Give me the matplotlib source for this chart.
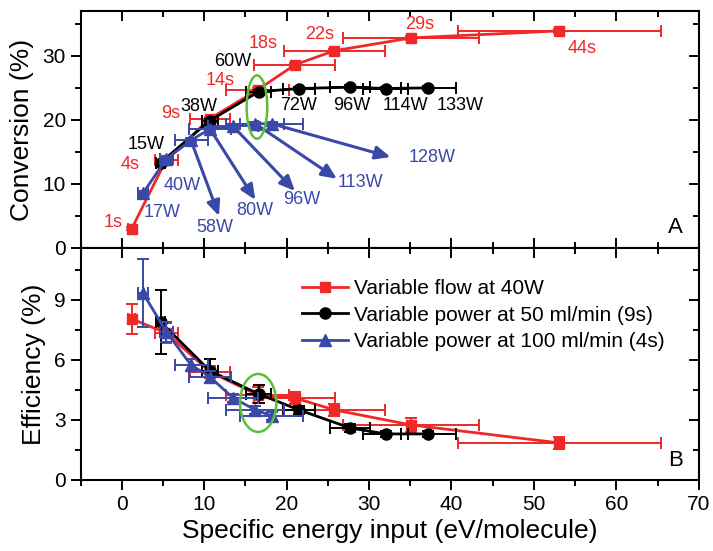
import numpy as np
import matplotlib.pyplot as plt
from matplotlib.patches import Ellipse
from matplotlib.lines import Line2D

plt.rcParams['font.family'] = ['Liberation Sans', 'DejaVu Sans']

# Variable flow at 40W (red)
flow_labels = ['1s', '4s', '9s', '14s', '18s', '22s', '29s', '44s']
flow_sei = [1.2, 5.4, 10.7, 16.5, 21.0, 25.8, 35.1, 53.1]
flow_sei_err = [0.4, 1.4, 2.4, 3.8, 4.9, 6.1, 8.2, 12.3]
flow_conv = [3.0, 13.8, 20.2, 24.7, 28.6, 30.8, 32.8, 33.9]
flow_conv_err = [0.2, 0.3, 0.3, 0.3, 0.3, 0.3, 0.3, 0.3]
flow_eff = [8.05, 7.35, 5.4, 4.25, 4.1, 3.5, 2.75, 1.85]
flow_eff_err = [0.75, 0.5, 0.3, 0.4, 0.3, 0.3, 0.35, 0.3]
flow_lbl_pos = [(-1.0, 3.9), (1.0, 13.1), (5.9, 21.0), (11.9, 26.2),
                (17.2, 31.9), (24.0, 33.4), (36.2, 34.9), (55.8, 31.2)]

# Variable power at 50 ml/min (black)
p50_labels = ['15W', '38W', '60W', '72W', '96W', '114W', '133W']
p50_sei = [4.7, 10.7, 16.6, 21.5, 27.7, 32.0, 37.2]
p50_sei_err = [0.6, 1.0, 1.5, 1.9, 2.4, 2.7, 3.3]
p50_conv = [13.3, 19.9, 24.4, 24.9, 25.1, 24.9, 25.0]
p50_conv_err = [0.3, 0.3, 0.3, 0.3, 0.3, 0.3, 0.3]
p50_eff = [7.9, 5.45, 4.3, 3.5, 2.6, 2.3, 2.3]
p50_eff_err = [1.6, 0.6, 0.45, 0.2, 0.2, 0.15, 0.15]
p50_lbl_pos = [(3.0, 16.2), (9.3, 22.1), (13.5, 29.1), (21.4, 22.2),
               (27.9, 22.2), (34.4, 22.2), (41.1, 22.2)]

# Variable power at 100 ml/min (blue)
p100_labels = ['17W', '40W', '58W', '80W', '96W', '113W', '128W']
p100_sei = [2.6, 5.4, 8.4, 10.7, 13.5, 16.2, 18.2]
p100_sei_err = [0.6, 0.8, 2.0, 2.5, 3.0, 3.5, 3.8]
p100_conv = [8.6, 13.9, 16.8, 18.6, 19.0, 19.4, 19.4]
p100_conv_err = [0.3, 0.3, 0.3, 0.3, 0.3, 0.3, 0.3]
p100_eff = [9.33, 7.4, 5.75, 5.15, 4.1, 3.5, 3.2]
p100_eff_err = [1.7, 0.5, 0.3, 0.3, 0.2, 0.2, 0.2]
p100_lbl_pos = [(4.9, 5.5), (7.3, 9.8), (11.3, 3.2), (16.2, 5.9),
                (21.8, 7.5), (28.9, 10.2), (37.6, 14.2)]
p100_arrow_tip = [None, None, (11.8, 5.0), (16.2, 7.5), (21.0, 8.9),
                  (26.1, 10.8), (32.6, 14.2)]

red = '#f02828'
blue = '#3a48a8'
green = '#5cbf3a'

fig = plt.figure(figsize=(7.13, 5.51), dpi=100)
axA = fig.add_axes([0.113, 0.550, 0.867, 0.430])
axB = fig.add_axes([0.113, 0.129, 0.867, 0.421])

eb = dict(capsize=4, elinewidth=1.4, capthick=1.4, lw=2)

axA.errorbar(flow_sei, flow_conv, xerr=flow_sei_err, yerr=flow_conv_err,
             color=red, marker='s', ms=7, **eb, zorder=3)
axA.errorbar(p50_sei, p50_conv, xerr=p50_sei_err, yerr=p50_conv_err,
             color='black', marker='o', ms=8, **eb, zorder=4)
axA.errorbar(p100_sei, p100_conv, xerr=p100_sei_err, yerr=p100_conv_err,
             color=blue, marker='^', ms=8, **eb, zorder=5)

for lab, pos in zip(flow_labels, flow_lbl_pos):
    axA.text(pos[0], pos[1], lab, color=red, fontsize=13, ha='center', va='center')
for lab, pos in zip(p50_labels, p50_lbl_pos):
    axA.text(pos[0], pos[1], lab, color='black', fontsize=13, ha='center', va='center')
for lab, pos, tip, x0, y0 in zip(p100_labels, p100_lbl_pos, p100_arrow_tip,
                                 p100_sei, p100_conv):
    axA.text(pos[0], pos[1], lab, color=blue, fontsize=13, ha='center', va='center')
    if tip is not None:
        axA.annotate('', xy=tip, xytext=(x0, y0),
                     arrowprops=dict(arrowstyle='-|>,head_length=0.9,head_width=0.4',
                                     color=blue, lw=2.2, shrinkA=0, shrinkB=0),
                     zorder=2)

axA.add_patch(Ellipse((16.4, 22.0), 2.5, 9.9, fill=False, ec=green, lw=1.8, zorder=6))
axA.text(0.975, 0.04, 'A', transform=axA.transAxes, fontsize=16, ha='right', va='bottom')

axB.errorbar(flow_sei, flow_eff, xerr=flow_sei_err, yerr=flow_eff_err,
             color=red, marker='s', ms=7, **eb, zorder=3)
axB.errorbar(p50_sei, p50_eff, xerr=p50_sei_err, yerr=p50_eff_err,
             color='black', marker='o', ms=8, **eb, zorder=4)
axB.errorbar(p100_sei, p100_eff, xerr=p100_sei_err, yerr=p100_eff_err,
             color=blue, marker='^', ms=8, **eb, zorder=5)
axB.add_patch(Ellipse((16.55, 3.85), 4.4, 2.9, fill=False, ec=green, lw=1.8, zorder=6))
axB.text(0.975, 0.04, 'B', transform=axB.transAxes, fontsize=16, ha='right', va='bottom')

handles = [Line2D([], [], color=red, marker='s', ms=7, lw=2),
           Line2D([], [], color='black', marker='o', ms=8, lw=2),
           Line2D([], [], color=blue, marker='^', ms=8, lw=2)]
legend_labels = ['Variable flow at 40W', 'Variable power at 50 ml/min (9s)',
                 'Variable power at 100 ml/min (4s)']
axB.legend(handles, legend_labels, loc='upper left', bbox_to_anchor=(0.345, 0.90),
           frameon=False, fontsize=15, handlelength=2.2, labelspacing=0.35,
           handletextpad=0.3, borderaxespad=0)

for ax in (axA, axB):
    ax.set_xlim(-5, 70)
    ax.set_xticks(np.arange(0, 71, 10))
    ax.set_xticks(np.arange(-5, 71, 5), minor=True)
    for s in ax.spines.values():
        s.set_linewidth(1.5)
    ax.tick_params(which='both', labelsize=15, width=1.4, top=True, right=True)
    ax.tick_params(which='major', length=7)
    ax.tick_params(which='minor', length=4)
    ax.tick_params(axis='y', which='both', direction='out')

axA.set_ylim(0, 37)
axA.set_yticks([0, 10, 20, 30])
axA.set_yticks(np.arange(5, 37, 5), minor=True)
axA.tick_params(axis='x', which='both', direction='in', labelbottom=False)
axA.set_ylabel('Conversion (%)', fontsize=19, labelpad=6)

axB.set_ylim(0, 11.6)
axB.set_yticks([0, 3, 6, 9])
axB.set_yticks(np.arange(1.5, 11.6, 1.5), minor=True)
axB.tick_params(axis='x', which='both', direction='out')
axB.set_ylabel('Efficiency (%)', fontsize=19, labelpad=6)
axB.set_xlabel('Specific energy input (eV/molecule)', fontsize=19, labelpad=4)

# right-side and top ticks point inward
for ax in (axA, axB):
    for t in ax.yaxis.get_major_ticks() + ax.yaxis.get_minor_ticks():
        t.tick2line.set_marker(0)
    for t in ax.xaxis.get_major_ticks() + ax.xaxis.get_minor_ticks():
        t.tick2line.set_marker(3)

fig.savefig('out.png', dpi=100)
